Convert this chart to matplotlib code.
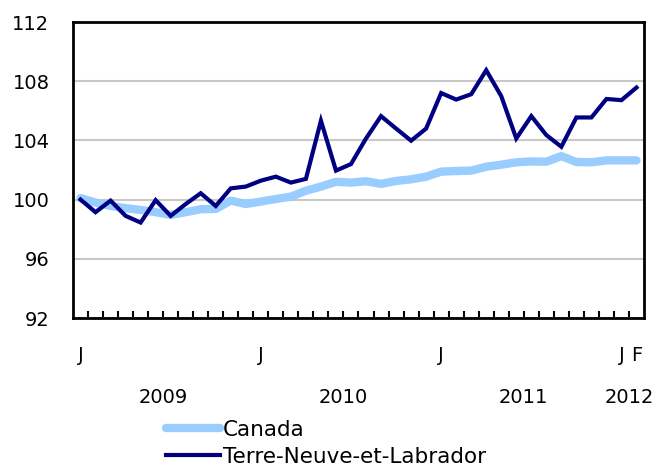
import matplotlib
matplotlib.use("Agg")
import matplotlib.pyplot as plt
import matplotlib.transforms as mtransforms
from matplotlib.ticker import FixedLocator, NullFormatter

# Data: monthly index, Jan 2009 - Feb 2012
months = ["J", "", "", "", "", "", "", "", "", "", "", "",
          "J", "", "", "", "", "", "", "", "", "", "", "",
          "J", "", "", "", "", "", "", "", "", "", "", "",
          "J", "F"]
years = ["2009", "2010", "2011", "2012"]
year_pos = [5.5, 17.5, 29.5, 36.5]

canada = [100.1, 99.8, 99.57, 99.42, 99.3, 99.15, 98.97, 99.15, 99.35, 99.37,
          99.93, 99.7, 99.87, 100.04, 100.2, 100.6, 100.88, 101.2, 101.15,
          101.24, 101.06, 101.26, 101.37, 101.55, 101.89, 101.93, 101.96,
          102.22, 102.36, 102.52, 102.58, 102.56, 102.94, 102.54, 102.52,
          102.65, 102.65, 102.65]
tnl = [100.0, 99.15, 99.93, 98.9, 98.45, 99.96, 98.9, 99.7, 100.43, 99.57,
       100.76, 100.88, 101.28, 101.55, 101.15, 101.4, 105.33, 101.96, 102.4,
       104.13, 105.64, 104.8, 103.98, 104.8, 107.2, 106.76, 107.12, 108.74,
       106.99, 104.13, 105.64, 104.36, 103.57, 105.55, 105.55, 106.8, 106.72,
       107.57]
yticks = [92, 96, 100, 104, 108, 112]

plt.rcParams['font.family'] = ['DejaVu Sans']
fs = 14

fig = plt.figure(figsize=(6.58, 4.66), dpi=100)
ax = fig.add_axes([73/658, 1 - 318/466, (644 - 73)/658, (318 - 22)/466])

x = list(range(len(months)))
l1, = ax.plot(x, canada, color="#99ccff", lw=6, solid_capstyle="round", zorder=3, label="Canada")
l2, = ax.plot(x, tnl, color="#000080", lw=3, solid_joinstyle="miter", zorder=4, label="Terre-Neuve-et-Labrador")

ax.set_xlim(-0.5, len(months) - 0.5)
ax.set_ylim(92, 112)
ax.set_yticks(yticks)
ax.set_yticklabels([str(v) for v in yticks], fontsize=fs)
ax.tick_params(axis="y", length=0, pad=17)
ax.yaxis.grid(True, color="#c8c8c8", lw=1.5, zorder=0)
ax.set_axisbelow(True)

# month labels as major ticks (no marks), boundaries as minor ticks
ax.set_xticks(x)
ax.set_xticklabels(months, fontsize=fs)
ax.tick_params(axis="x", which="major", length=0, pad=20)
ax.xaxis.set_minor_locator(FixedLocator([i + 0.5 for i in range(len(months) - 1)]))
ax.xaxis.set_minor_formatter(NullFormatter())
ax.tick_params(axis="x", which="minor", direction="in", length=5, width=1.5, color="black")

for s in ax.spines.values():
    s.set_linewidth(2)
    s.set_color("black")

trans = mtransforms.blended_transform_factory(ax.transData, ax.transAxes)
for yr, p in zip(years, year_pos):
    ax.text(p, -0.27, yr, transform=trans, ha="center", va="center", fontsize=fs)

fig.legend(handles=[l1, l2], loc="upper left", bbox_to_anchor=(166/658, 1 - 420/466),
           frameon=False, prop={"size": 15.5}, handlelength=2.5, handletextpad=0.15,
           labelspacing=0.32, borderpad=0, borderaxespad=0)

fig.savefig("out.png", dpi=100)
